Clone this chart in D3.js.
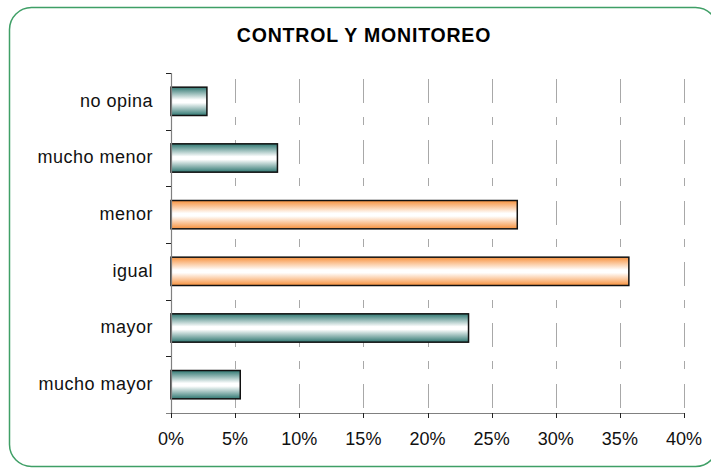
<!DOCTYPE html>
<html>
<head>
<meta charset="utf-8">
<script src="https://cdn.jsdelivr.net/npm/d3@7"></script>
<style>
  body { margin: 0; background: #fff; }
  svg { display: block; font-family: "Liberation Sans", Arial, sans-serif; }
</style>
</head>
<body>
<svg id="chart"></svg>
<script>
// categories top to bottom
var categories = ['no opina', 'mucho menor', 'menor', 'igual', 'mayor', 'mucho mayor'];
var values = [2.8, 8.3, 27.0, 35.7, 23.2, 5.4];
var highlight = [false, false, true, true, false, false];
var xTicks = [0, 5, 10, 15, 20, 25, 30, 35, 40];
var title = 'CONTROL Y MONITOREO';

var width = 711, height = 473;
var margin = {top: 73, right: 27, bottom: 60, left: 171};

var svg = d3.select('#chart').attr('width', width).attr('height', height);

// gradients for the bars
var defs = svg.append('defs');
function grad(id, edge) {
    var g = defs.append('linearGradient').attr('id', id)
        .attr('x1', 0).attr('y1', 0).attr('x2', 0).attr('y2', 1);
    g.append('stop').attr('offset', '0%').attr('stop-color', edge);
    g.append('stop').attr('offset', '45%').attr('stop-color', '#ffffff');
    g.append('stop').attr('offset', '55%').attr('stop-color', '#ffffff');
    g.append('stop').attr('offset', '100%').attr('stop-color', edge);
}
grad('gTeal', '#2f7771');
grad('gOrange', '#f7913d');

// frame
svg.append('rect')
    .attr('x', 9.5).attr('y', 7.5)
    .attr('width', 708).attr('height', 459)
    .attr('rx', 22).attr('ry', 22)
    .attr('fill', '#fff')
    .attr('stroke', '#3f9f66')
    .attr('stroke-width', 1.5);

svg.append('text')
    .attr('x', 364).attr('y', 42)
    .attr('text-anchor', 'middle')
    .attr('font-size', 19.5).attr('font-weight', 'bold')
    .attr('letter-spacing', 0.8)
    .text(title);

var x = d3.scaleLinear().domain([0, 40]).range([margin.left, width - margin.right]);
var y = d3.scaleBand().domain(categories)
    .range([margin.top, height - margin.bottom])
    .paddingInner(0.5).paddingOuter(0.25);

var plotTop = margin.top, plotBottom = height - margin.bottom;

// dashed gridlines
svg.append('g').selectAll('line')
    .data(xTicks.slice(1))
    .enter().append('line')
    .attr('x1', function(d) { return Math.round(x(d)) + 0.5; })
    .attr('x2', function(d) { return Math.round(x(d)) + 0.5; })
    .attr('y1', plotTop).attr('y2', plotBottom)
    .attr('stroke', '#a8a8a8')
    .attr('stroke-width', 1)
    .attr('stroke-dasharray', '24,14,8,15')
    .attr('stroke-dashoffset', 55);

// bars
svg.append('g').selectAll('rect')
    .data(categories)
    .enter().append('rect')
    .attr('x', x(0))
    .attr('y', function(d) { return y(d); })
    .attr('width', function(d, i) { return x(values[i]) - x(0); })
    .attr('height', y.bandwidth())
    .attr('fill', function(d, i) { return highlight[i] ? 'url(#gOrange)' : 'url(#gTeal)'; })
    .attr('stroke', '#111')
    .attr('stroke-width', 1.5);

// y axis
var yAxis = svg.append('g');
yAxis.append('line')
    .attr('x1', margin.left + 0.5).attr('x2', margin.left + 0.5)
    .attr('y1', plotTop).attr('y2', plotBottom)
    .attr('stroke', '#808080').attr('stroke-width', 1.2);
yAxis.selectAll('.tk')
    .data(d3.range(categories.length + 1))
    .enter().append('line')
    .attr('x1', margin.left - 5).attr('x2', margin.left)
    .attr('y1', function(i) { return Math.round(plotTop + i * (plotBottom - plotTop) / categories.length) + 0.5; })
    .attr('y2', function(i) { return Math.round(plotTop + i * (plotBottom - plotTop) / categories.length) + 0.5; })
    .attr('stroke', '#222').attr('stroke-width', 1);
yAxis.selectAll('text')
    .data(categories)
    .enter().append('text')
    .attr('x', margin.left - 18)
    .attr('y', function(d) { return y(d) + y.bandwidth() / 2; })
    .attr('dy', '0.3em')
    .attr('text-anchor', 'end')
    .attr('font-size', 18)
    .attr('letter-spacing', 0.5)
    .attr('fill', '#111')
    .text(function(d) { return d; });

// x axis
var xAxis = svg.append('g');
xAxis.append('line')
    .attr('x1', margin.left - 5).attr('x2', x(40))
    .attr('y1', plotBottom + 0.5).attr('y2', plotBottom + 0.5)
    .attr('stroke', '#808080').attr('stroke-width', 1.2);
xAxis.selectAll('.tk')
    .data(xTicks)
    .enter().append('line')
    .attr('x1', function(d) { return Math.round(x(d)) + 0.5; })
    .attr('x2', function(d) { return Math.round(x(d)) + 0.5; })
    .attr('y1', plotBottom).attr('y2', plotBottom + 5)
    .attr('stroke', '#222').attr('stroke-width', 1);
xAxis.selectAll('text')
    .data(xTicks)
    .enter().append('text')
    .attr('x', function(d) { return x(d); })
    .attr('y', plotBottom + 32)
    .attr('text-anchor', 'middle')
    .attr('font-size', 18)
    .attr('fill', '#111')
    .text(function(d) { return d + '%'; });
</script>
</body>
</html>
